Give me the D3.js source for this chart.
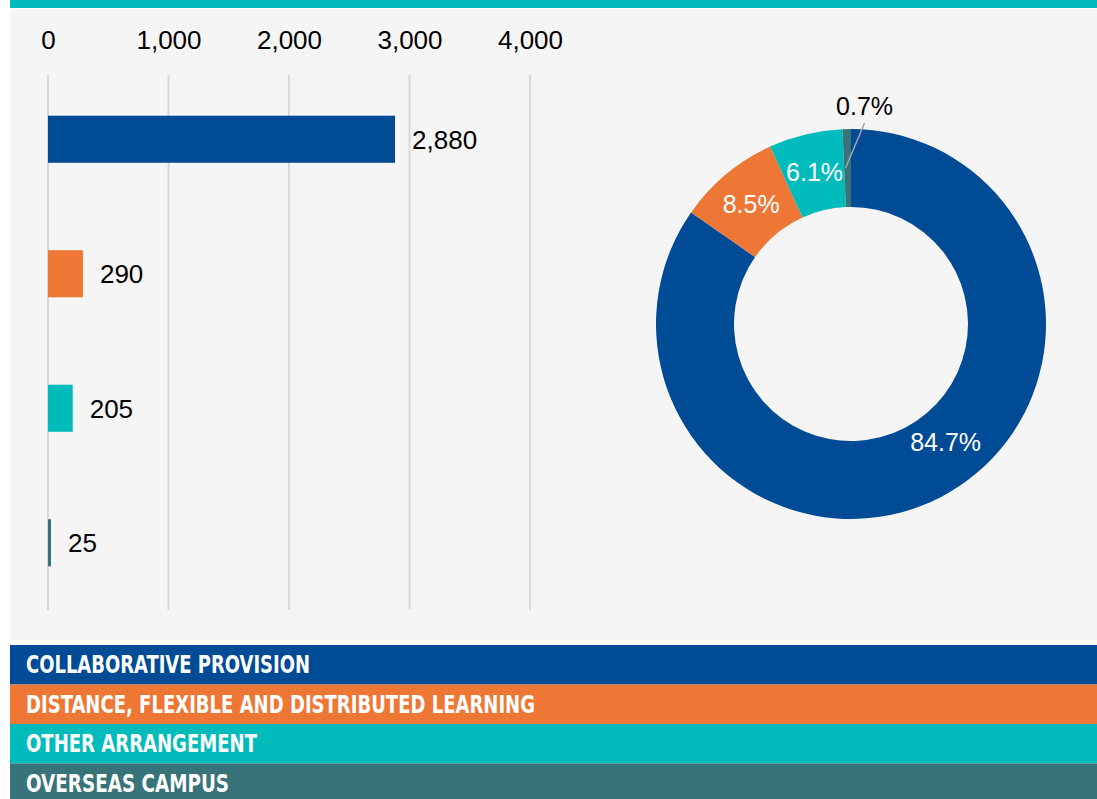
<!DOCTYPE html>
<html>
<head>
<meta charset="utf-8">
<script src="https://cdn.jsdelivr.net/npm/d3@7"></script>
<style>
  body { margin: 0; background: #ffffff; }
  svg { display: block; }
</style>
</head>
<body>
<div id="chart"></div>
<script>
// chart data
var categories = ["Collaborative provision", "Distance, flexible and distributed learning", "Other arrangement", "Overseas campus"];
var legendLabels = ["COLLABORATIVE PROVISION", "DISTANCE, FLEXIBLE AND DISTRIBUTED LEARNING", "OTHER ARRANGEMENT", "OVERSEAS CAMPUS"];
var counts = [2880, 290, 205, 25];
var countLabels = ["2,880", "290", "205", "25"];
var shares = [84.7, 8.5, 6.1, 0.7];
var shareLabels = ["84.7%", "8.5%", "6.1%", "0.7%"];
var xTicks = [0, 1000, 2000, 3000, 4000];

var colors = ["#004b96", "#ee7736", "#00bbbb", "#377378"];

var width = 1097;
var height = 799;

var svg = d3.select("#chart")
  .append("svg")
  .attr("width", width)
  .attr("height", height);

// panel + top strip
svg.append("rect")
  .attr("x", 10).attr("y", 9)
  .attr("width", width - 10).attr("height", 631)
  .attr("fill", "#f5f5f5");

svg.append("rect")
  .attr("x", 10).attr("y", 0)
  .attr("width", width - 10).attr("height", 8)
  .attr("fill", "#00bbbb");

// ---- bar chart ----
var xScale = d3.scaleLinear()
  .domain([0, 4000])
  .range([48, 530]);

var yScale = d3.scaleBand()
  .domain(categories)
  .range([72, 610])
  .paddingInner(0.65)
  .paddingOuter(0.325);

// gridlines
svg.append("g")
  .selectAll("line")
  .data(xTicks)
  .join("line")
  .attr("x1", function(d) { return xScale(d); })
  .attr("x2", function(d) { return xScale(d); })
  .attr("y1", 75)
  .attr("y2", 610)
  .attr("stroke", "#d9d9d9")
  .attr("stroke-width", 2);

// tick labels
var xAxis = svg.append("g")
  .attr("transform", "translate(0,49)")
  .call(d3.axisTop(xScale)
    .tickValues(xTicks)
    .tickSize(0)
    .tickPadding(0)
    .tickFormat(d3.format(",")));

xAxis.select(".domain").remove();
xAxis.selectAll("text")
  .attr("font-family", "Liberation Sans, Arial, sans-serif")
  .attr("font-size", "26px")
  .attr("fill", "#000")
  .attr("dy", 0);

// bars
svg.append("g")
  .selectAll("rect")
  .data(counts)
  .join("rect")
  .attr("x", xScale(0))
  .attr("y", function(d, i) { return yScale(categories[i]); })
  .attr("width", function(d) { return xScale(d) - xScale(0); })
  .attr("height", yScale.bandwidth())
  .attr("fill", function(d, i) { return colors[i]; });

// bar labels
svg.append("g")
  .selectAll("text")
  .data(counts)
  .join("text")
  .attr("x", function(d) { return xScale(d) + 17; })
  .attr("y", function(d, i) { return yScale(categories[i]) + yScale.bandwidth() / 2; })
  .attr("dy", "0.36em")
  .attr("font-family", "Liberation Sans, Arial, sans-serif")
  .attr("font-size", "26px")
  .attr("fill", "#000")
  .text(function(d, i) { return countLabels[i]; });

// ---- donut ----
var cx = 851, cy = 324;
var innerR = 117, outerR = 195;

var pie = d3.pie().sort(null).value(function(d) { return d; });
var arcs = pie(shares);

var arc = d3.arc().innerRadius(innerR).outerRadius(outerR);
var labelArc = d3.arc().innerRadius(156).outerRadius(156);

var donut = svg.append("g")
  .attr("transform", "translate(" + cx + "," + cy + ")");

donut.selectAll("path")
  .data(arcs)
  .join("path")
  .attr("d", arc)
  .attr("fill", function(d, i) { return colors[i]; });

// labels inside the ring (small slice gets a leader line)
arcs.forEach(function(a, i) {
  var c = labelArc.centroid(a);
  if (i === 0) {
    // big slice label sits a little before the middle of the slice
    var ang = a.startAngle + (a.endAngle - a.startAngle) * 0.463;
    c = [Math.sin(ang) * 151, -Math.cos(ang) * 151];
  }
  if (a.data < 2) {
    donut.append("line")
      .attr("x1", c[0] - 2).attr("y1", c[1])
      .attr("x2", c[0] + 17).attr("y2", c[1] - 45)
      .attr("stroke", "#a6a6a6")
      .attr("stroke-width", 1.5);
    donut.append("text")
      .attr("x", c[0] + 17)
      .attr("y", c[1] - 53)
      .attr("text-anchor", "middle")
      .attr("font-family", "Liberation Sans, Arial, sans-serif")
      .attr("font-size", "25px")
      .attr("fill", "#000")
      .text(shareLabels[i]);
  } else {
    donut.append("text")
      .attr("x", c[0])
      .attr("y", c[1])
      .attr("dy", "0.36em")
      .attr("text-anchor", "middle")
      .attr("font-family", "Liberation Sans, Arial, sans-serif")
      .attr("font-size", "25px")
      .attr("fill", "#fff")
      .text(shareLabels[i]);
  }
});

// ---- legend bands ----
var legendY = d3.scaleBand()
  .domain(legendLabels)
  .range([645, 803]);

var legend = svg.append("g");

legend.selectAll("rect")
  .data(legendLabels)
  .join("rect")
  .attr("x", 10)
  .attr("y", function(d) { return legendY(d); })
  .attr("width", width - 10)
  .attr("height", legendY.bandwidth())
  .attr("fill", function(d, i) { return colors[i]; });

var legendWidths = [284, 509, 231, 203];

legend.selectAll("text")
  .data(legendLabels)
  .join("text")
  .attr("x", 26)
  .attr("y", function(d) { return legendY(d) + 28; })
  .attr("font-family", "DejaVu Sans Condensed, DejaVu Sans, sans-serif")
  .attr("font-stretch", "condensed")
  .attr("font-weight", "bold")
  .attr("font-size", "25px")
  .attr("fill", "#fff")
  .attr("textLength", function(d, i) { return legendWidths[i]; })
  .attr("lengthAdjust", "spacingAndGlyphs")
  .text(function(d) { return d; });
</script>
</body>
</html>
